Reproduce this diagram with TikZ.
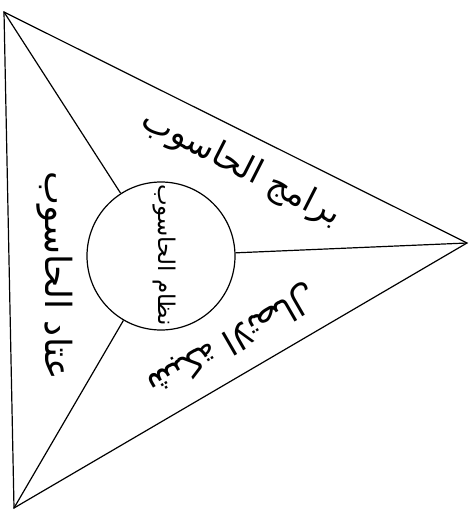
\documentclass[tikz,border=0pt]{standalone}
\usepackage{fontspec}
\newfontfamily\arabicfont[Script=Arabic]{DejaVu Sans}
\TeXXeTstate=1
\begin{document}
\begin{tikzpicture}[x=1pt,y=-1pt,
  edge/.style={line width=1.2pt, black},
  lbl/.style={font=\arabicfont\fontsize{34}{38}\selectfont, inner sep=0pt},
  ctrlbl/.style={font=\arabicfont\fontsize{23}{26}\selectfont, inner sep=0pt},
  hub/.style={circle, draw, line width=1.2pt, minimum size=148pt, inner sep=0pt}]
\useasboundingbox (0,0) rectangle (473,514);
\coordinate (A) at (4,12);
\coordinate (B) at (14,508);
\coordinate (C) at (467,243);
\draw[edge, line join=miter] (A) -- (C) -- (B) -- cycle;
\node[hub] (K) at (161,256) {};
\draw[edge] (K) -- (A);
\draw[edge] (K) -- (B);
\draw[edge] (K) -- (C);
\node[lbl, rotate=-27] (sw) at (241,168) {\beginR برامج الحاسوب\endR};
\node[lbl, rotate=-90, font=\arabicfont\fontsize{36}{40}\selectfont] (hw) at (55,276) {\beginR عتاد الحاسوب\endR};
\node[lbl, rotate=-150] (net) at (232,340) {\beginR شبكة الاتصال\endR};
\node[ctrlbl, rotate=-90] (ctr) at (164,255) {\beginR نظام الحاسوب\endR};
\end{tikzpicture}
\end{document}
